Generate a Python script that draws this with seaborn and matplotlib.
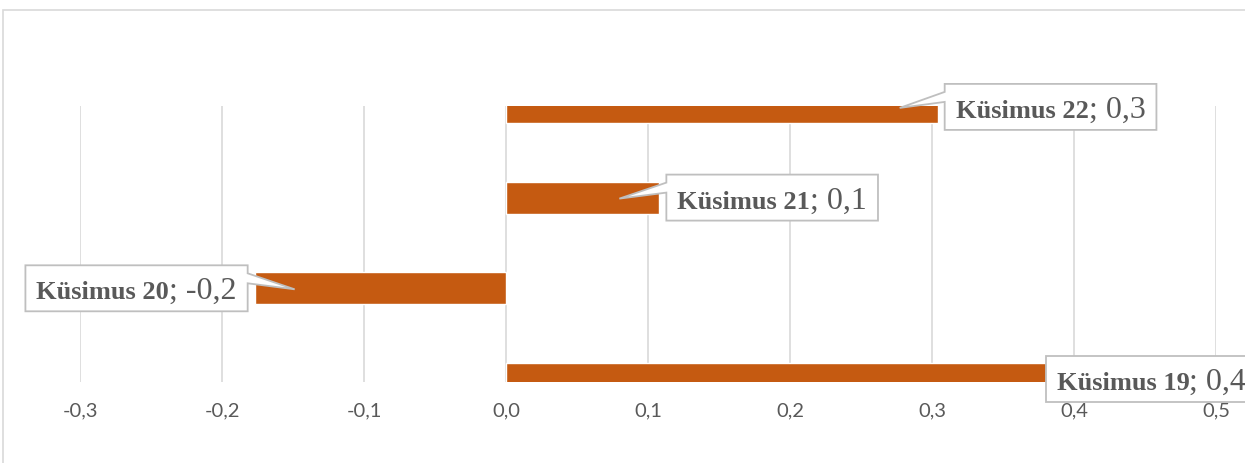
import matplotlib
matplotlib.use("Agg")
import matplotlib.pyplot as plt
import numpy as np
import pandas as pd
import seaborn as sns
from matplotlib.patches import Polygon, Rectangle
from matplotlib.transforms import IdentityTransform

# ---- data ----
categories = ["Küsimus 22", "Küsimus 21", "Küsimus 20", "Küsimus 19"]
values = [0.304, 0.108, -0.177, 0.380]
value_labels = ["0,3", "0,1", "-0,2", "0,4"]
tick_values = [-0.3, -0.2, -0.1, 0.0, 0.1, 0.2, 0.3, 0.4, 0.5]
tick_labels = ["-0,3", "-0,2", "-0,1", "0,0", "0,1", "0,2", "0,3", "0,4", "0,5"]

W, H = 1245, 463
BAR = "#c55a11"
GRID = "#d9d9d9"
TXT = "#595959"

sns.set_theme(style="white")
plt.rcParams["font.family"] = ["Lato", "DejaVu Sans"]

fig = plt.figure(figsize=(W / 100, H / 100), dpi=100)
ax = fig.add_axes([80 / W, 1 - 382 / H, (1216 - 80) / W, (382 - 106) / H])

df = pd.DataFrame({"cat": categories, "val": values})
sns.barplot(data=df, x="val", y="cat", orient="h", color=BAR, saturation=1,
            width=0.352, ax=ax, zorder=3)

ax.set_xlim(-0.3, 0.5)
ax.set_ylim(3.033, -0.01)
ax.set_xticks(tick_values)
ax.set_xticklabels(tick_labels)
ax.set_yticks([])
ax.set_xlabel("")
ax.set_ylabel("")
ax.grid(axis="x", color=GRID, lw=1.2, zorder=0)
ax.set_axisbelow(True)
for s in ax.spines.values():
    s.set_visible(False)
ax.tick_params(axis="x", length=0, pad=15, labelsize=14.5, labelcolor=TXT)

# outer chart frame
fig.patches.append(Rectangle((3 / W, -0.1), 1.2, 1 - 10 / H + 0.1,
                             transform=fig.transFigure, fill=False,
                             ec=GRID, lw=1.2, zorder=0))

# ---- callout labels ----
ident = IdentityTransform()
renderer = fig.canvas.get_renderer()
FB, FR = 19, 23
PAD = 11
HALF_UP, HALF_DN = 23, 23
# side, gap from bar end, tip offset in x (None = no pointer)
specs = [("right", 7, -38), ("right", 7, -40), ("left", 7, 40), ("right", 0, None)]

for i, (cat, val, vl) in enumerate(zip(categories, values, value_labels)):
    side, gap, tipdx = specs[i]
    ex, ey = ax.transData.transform((val, i))
    tb = fig.text(0, 0, cat, transform=ident, fontsize=FB, fontweight="bold",
                  family="Liberation Serif", color=TXT, ha="left", va="baseline", zorder=6)
    tr = fig.text(0, 0, "; " + vl, transform=ident, fontsize=FR,
                  family="Liberation Serif", color=TXT, ha="left", va="baseline", zorder=6)
    wb = tb.get_window_extent(renderer).width
    wr = tr.get_window_extent(renderer).width
    bw = wb + wr + 2 * PAD
    if side == "right":
        bx0 = ex + gap
    else:
        bx0 = ex - gap - bw
    bx1 = bx0 + bw
    by1 = ey + HALF_UP   # top (display coords, y up)
    by0 = ey - HALF_DN
    base_y = ey - 11
    tb.set_position((bx0 + PAD, base_y))
    tr.set_position((bx0 + PAD + wb, base_y))
    if tipdx is None:
        verts = [(bx0, by1), (bx1, by1), (bx1, by0), (bx0, by0)]
    else:
        tip = (ex + tipdx, ey - 1)
        if side == "right":
            verts = [(bx0, by1), (bx1, by1), (bx1, by0), (bx0, by0),
                     (bx0, by1 - 18), tip, (bx0, by1 - 8)]
        else:
            verts = [(bx0, by1), (bx1, by1), (bx1, by1 - 8), tip,
                     (bx1, by1 - 18), (bx1, by0), (bx0, by0)]
    fig.patches.append(Polygon(verts, closed=True, transform=ident, fc="white",
                               ec="#bfbfbf", lw=1.3, zorder=5))

fig.savefig("out.png", dpi=100)
